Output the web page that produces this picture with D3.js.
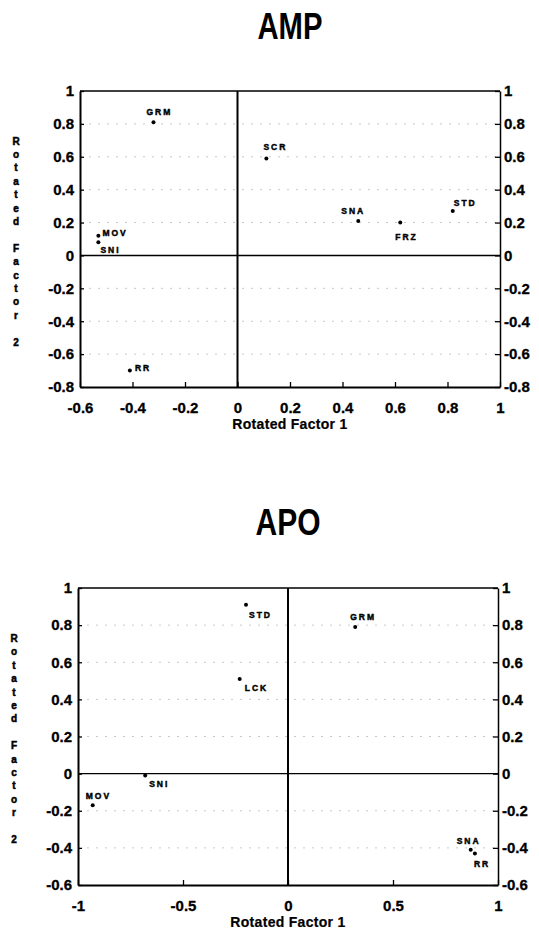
<!DOCTYPE html>
<html>
<head>
<meta charset="utf-8">
<script src="https://cdn.jsdelivr.net/npm/d3@7"></script>
<style>
body { margin: 0; background: #fff; }
svg { display: block; font-family: "Liberation Sans", Arial, sans-serif; }
</style>
</head>
<body>
<svg width="539" height="932"></svg>
<script>
const svg = d3.select("svg");

// AMP panel data
const ampLabels = ["GRM", "MOV", "SNI", "RR", "SCR", "SNA", "FRZ", "STD"];
const ampFactor1 = [-0.32, -0.53, -0.53, -0.41, 0.11, 0.46, 0.62, 0.82];
const ampFactor2 = [0.81, 0.12, 0.08, -0.70, 0.59, 0.21, 0.20, 0.27];
const ampXTicks = [-0.6, -0.4, -0.2, 0, 0.2, 0.4, 0.6, 0.8, 1];
const ampYTicks = [-0.8, -0.6, -0.4, -0.2, 0, 0.2, 0.4, 0.6, 0.8, 1];

// APO panel data
const apoLabels = ["STD", "LCK", "SNI", "MOV", "GRM", "SNA", "RR"];
const apoFactor1 = [-0.20, -0.23, -0.68, -0.93, 0.32, 0.87, 0.89];
const apoFactor2 = [0.91, 0.51, -0.01, -0.17, 0.79, -0.41, -0.43];
const apoXTicks = [-1, -0.5, 0, 0.5, 1];
const apoYTicks = [-0.6, -0.4, -0.2, 0, 0.2, 0.4, 0.6, 0.8, 1];

const xTitle = "Rotated Factor 1";
const yTitle = "Rotated Factor 2";

// label offsets from the dot (px), start-anchored
const ampOffsets = {GRM: [-7, -7], MOV: [4, 0], SNI: [2, 11], RR: [5, 0],
    SCR: [-3, -8], SNA: [-17, -7], FRZ: [-5, 17], STD: [1, -5]};
const apoOffsets = {STD: [3, 13], LCK: [5, 12], SNI: [4, 12], MOV: [-7, -6],
    GRM: [-5, -7], SNA: [-14, -6], RR: [-1, 14]};

const fmt = d => String(+d.toFixed(2));

function drawPanel(cfg) {
    const g = svg.append("g");
    const x = d3.scaleLinear().domain(d3.extent(cfg.xTicks)).range([cfg.left, cfg.right]);
    const y = d3.scaleLinear().domain(d3.extent(cfg.yTicks)).range([cfg.bottom, cfg.top]);

    // title
    g.append("text")
        .attr("x", (cfg.left + cfg.right) / 2)
        .attr("y", cfg.titleY)
        .attr("text-anchor", "middle")
        .attr("font-size", 37)
        .attr("font-weight", "bold")
        .attr("textLength", 65)
        .attr("lengthAdjust", "spacingAndGlyphs")
        .text(cfg.title);

    // faint grid
    g.selectAll(".grid")
        .data(cfg.yTicks.filter(d => d !== 0 && d !== y.domain()[0] && d !== y.domain()[1]))
        .enter()
        .append("line")
        .attr("x1", cfg.left)
        .attr("x2", cfg.right)
        .attr("y1", d => y(d))
        .attr("y2", d => y(d))
        .attr("stroke", "#c8c8c8")
        .attr("stroke-width", 1)
        .attr("stroke-dasharray", "2,7");

    // frame top
    g.append("line")
        .attr("x1", cfg.left).attr("x2", cfg.right)
        .attr("y1", cfg.top).attr("y2", cfg.top)
        .attr("stroke", "#000").attr("stroke-width", 1.3);

    const styleAxis = (sel, w) => {
        sel.select(".domain").attr("stroke-width", w);
        sel.selectAll(".tick line").attr("stroke-width", 1.3);
        sel.selectAll("text")
            .attr("font-size", 15)
            .attr("font-weight", "bold")
            .attr("font-family", "\"Liberation Sans\", Arial, sans-serif")
            .attr("fill", "#000")
            .attr("stroke", "#000")
            .attr("stroke-width", 0.3);
    };

    g.append("g")
        .attr("transform", `translate(0,${cfg.bottom})`)
        .call(d3.axisBottom(x).tickValues(cfg.xTicks).tickFormat(fmt)
            .tickSizeInner(-5).tickSizeOuter(0).tickPadding(15))
        .call(s => styleAxis(s, 2));

    g.append("g")
        .attr("transform", `translate(${cfg.left},0)`)
        .call(d3.axisLeft(y).tickValues(cfg.yTicks).tickFormat(fmt)
            .tickSizeInner(-4).tickSizeOuter(0).tickPadding(6))
        .call(s => styleAxis(s, 2));

    g.append("g")
        .attr("transform", `translate(${cfg.right},0)`)
        .call(d3.axisRight(y).tickValues(cfg.yTicks).tickFormat(fmt)
            .tickSizeInner(-5).tickSizeOuter(0).tickPadding(4))
        .call(s => styleAxis(s, 1.5));

    // zero lines
    g.append("line")
        .attr("x1", x(0)).attr("x2", x(0))
        .attr("y1", cfg.top).attr("y2", cfg.bottom)
        .attr("stroke", "#000").attr("stroke-width", 2);
    g.append("line")
        .attr("x1", cfg.left).attr("x2", cfg.right)
        .attr("y1", y(0)).attr("y2", y(0))
        .attr("stroke", "#000").attr("stroke-width", 1.4);

    // axis titles
    g.append("text")
        .attr("x", (cfg.left + cfg.right) / 2)
        .attr("y", cfg.bottom + 42)
        .attr("text-anchor", "middle")
        .attr("font-size", 14)
        .attr("font-weight", "bold")
        .attr("letter-spacing", 0.3)
        .attr("stroke", "#000")
        .attr("stroke-width", 0.2)
        .text(xTitle);

    const letters = yTitle.split("");
    const step = 13.4;
    const midY = (cfg.top + cfg.bottom) / 2 + 2;
    g.selectAll(".ylab")
        .data(letters)
        .enter()
        .append("text")
        .attr("x", cfg.left - 64)
        .attr("y", (d, i) => midY + (i - (letters.length - 1) / 2) * step + 4)
        .attr("text-anchor", "middle")
        .attr("font-size", 10)
        .attr("font-weight", "bold")
        .attr("stroke", "#000")
        .attr("stroke-width", 0.5)
        .text(d => d);

    // points
    const pts = cfg.labels.map((l, i) => ({label: l, f1: cfg.f1[i], f2: cfg.f2[i]}));
    g.selectAll(".dot")
        .data(pts)
        .enter()
        .append("circle")
        .attr("cx", d => x(d.f1))
        .attr("cy", d => y(d.f2))
        .attr("r", 2)
        .attr("fill", "#000");

    g.selectAll(".plabel")
        .data(pts)
        .enter()
        .append("text")
        .attr("x", d => x(d.f1) + cfg.offsets[d.label][0])
        .attr("y", d => y(d.f2) + cfg.offsets[d.label][1])
        .attr("font-size", 8.5)
        .attr("font-weight", "bold")
        .attr("letter-spacing", 2)
        .attr("stroke", "#000")
        .attr("stroke-width", 0.45)
        .text(d => d.label);
}

drawPanel({
    title: "AMP", titleY: 39,
    left: 80, right: 500, top: 91, bottom: 387,
    xTicks: ampXTicks, yTicks: ampYTicks,
    labels: ampLabels, f1: ampFactor1, f2: ampFactor2, offsets: ampOffsets
});

drawPanel({
    title: "APO", titleY: 535,
    left: 78, right: 498, top: 588, bottom: 885,
    xTicks: apoXTicks, yTicks: apoYTicks,
    labels: apoLabels, f1: apoFactor1, f2: apoFactor2, offsets: apoOffsets
});
</script>
</body>
</html>
